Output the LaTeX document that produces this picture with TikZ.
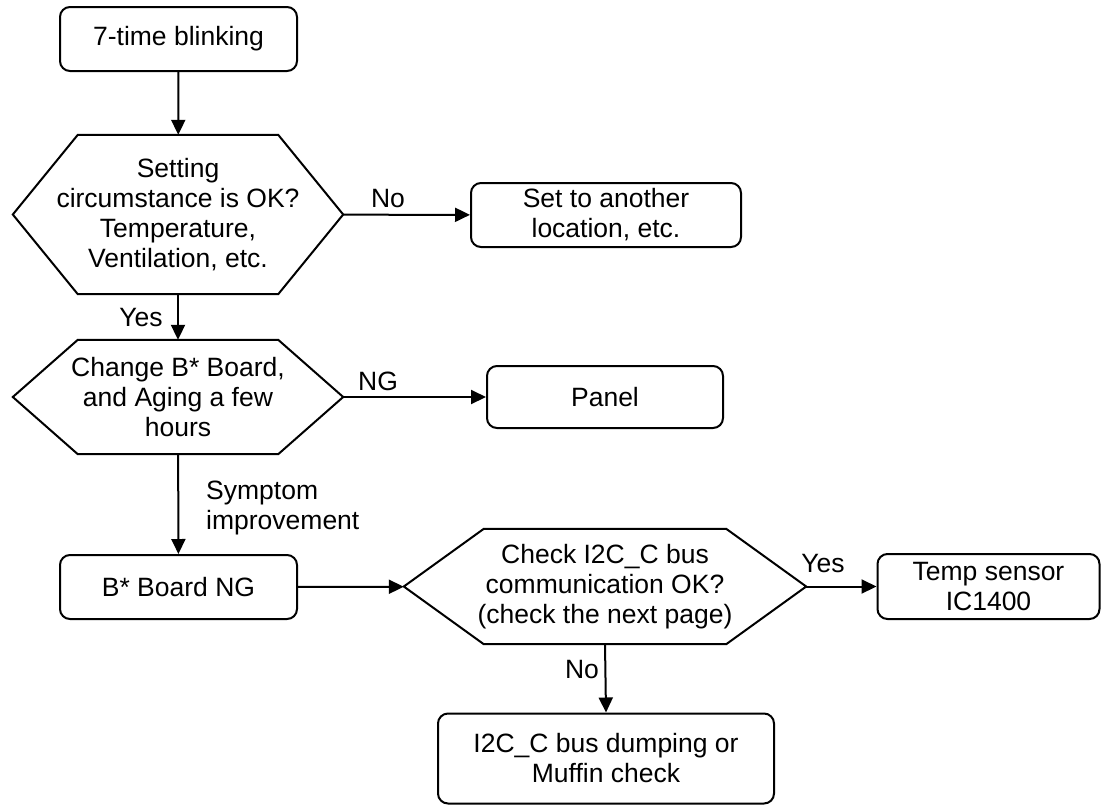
\documentclass[tikz,border=0pt]{standalone}
\usepackage{fontspec}
\setmainfont{Liberation Sans}
\usetikzlibrary{arrows.meta}
\begin{document}
\begin{tikzpicture}[x=1pt,y=-1pt,
  every node/.style={font=\fontsize{26.5}{30}\selectfont, inner sep=0pt},
  box/.style={draw, line width=2pt, rounded corners=10pt, align=center},
  hexnode/.style={align=center},
  hexline/.style={line width=2pt, line join=miter},
  arr/.style={line width=2pt, -{Triangle[length=15pt,width=14pt]}},
  lbl/.style={}]
\useasboundingbox (0,0) rectangle (1102,806);

% boxes
\node[box, minimum width=237pt, minimum height=64pt] (start) at (178.5,39) {7-time blinking};
\node[box, minimum width=270pt, minimum height=64pt] (set) at (606,215) {Set to another\\location, etc.};
\node[box, minimum width=236pt, minimum height=62pt] (panel) at (605,397) {Panel};
\node[box, minimum width=237pt, minimum height=64pt] (bng) at (178.5,587) {B* Board NG};
\node[box, minimum width=222pt, minimum height=65pt] (temp) at (988.5,586.5) {Temp sensor\\IC1400};
\node[box, minimum width=336pt, minimum height=90pt] (dump) at (606,758.5) {I2C\_C bus dumping or\\Muffin check};

% hexagons
\node[hexnode, minimum width=330pt, minimum height=159pt] (h1) at (178,214.5) {Setting\\circumstance is OK?\\Temperature,\\Ventilation, etc.};
\node[hexnode, minimum width=330pt, minimum height=114pt] (h2) at (178,397) {Change B* Board,\\and Aging a few\\hours};
\node[hexnode, minimum width=402pt, minimum height=115pt] (h3) at (605,586.5) {Check I2C\_C bus\\communication OK?\\(check the next page)};

\draw[hexline] (h1.west) -- ([xshift=65pt]h1.north west) -- ([xshift=-65pt]h1.north east) -- (h1.east) -- ([xshift=-65pt]h1.south east) -- ([xshift=65pt]h1.south west) -- cycle;
\draw[hexline] (h2.west) -- ([xshift=65pt]h2.north west) -- ([xshift=-65pt]h2.north east) -- (h2.east) -- ([xshift=-65pt]h2.south east) -- ([xshift=65pt]h2.south west) -- cycle;
\draw[hexline] (h3.west) -- ([xshift=80pt]h3.north west) -- ([xshift=-80pt]h3.north east) -- (h3.east) -- ([xshift=-80pt]h3.south east) -- ([xshift=80pt]h3.south west) -- cycle;

% connectors
\draw[arr] (start) -- (h1);
\draw[arr] (h1) -- (set);
\draw[arr] (h1) -- (h2);
\draw[arr] (h2) -- (panel);
\draw[arr] (h2) -- (bng);
\draw[arr] (bng) -- (h3);
\draw[arr] (h3) -- (temp);
\draw[arr] (h3.south) -- (dump.north);

% labels
\node[lbl] (lno1) at (388,199) {No};
\node[lbl] (lyes1) at (141,318) {Yes};
\node[lbl] (lng) at (378,381) {NG};
\node[lbl, anchor=west, align=left] (lsym) at (206,508) {Symptom\\improvement};
\node[lbl] (lyes2) at (823,564) {Yes};
\node[lbl] (lno2) at (582,670) {No};
\end{tikzpicture}
\end{document}
